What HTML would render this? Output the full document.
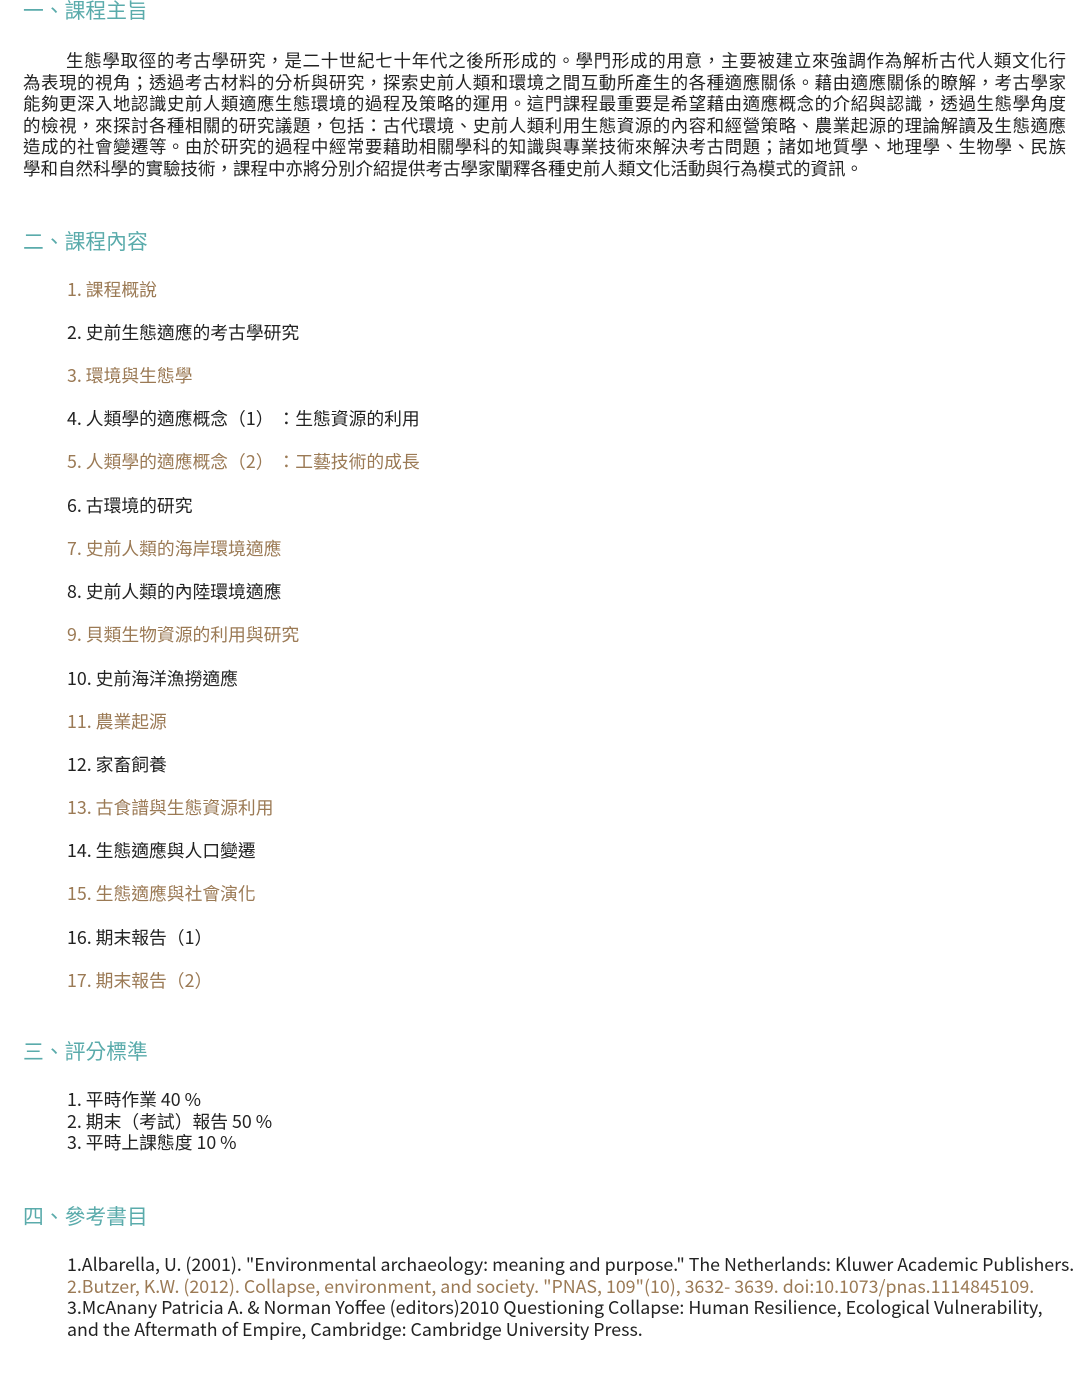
<!DOCTYPE html>
<html><head><meta charset="utf-8"><style>
body{margin:0;width:1082px;height:1375px;background:#fff;position:relative;overflow:hidden;font-family:"Liberation Sans","Noto Sans CJK TC",sans-serif;color:#222;}
.a{position:absolute;white-space:nowrap;}
.h{font-size:20.8px;color:#5aabab;line-height:24px;left:23px;font-family:"Noto Sans CJK TC",sans-serif;}
.p{left:23px;width:1043px;font-size:17.5px;line-height:21.5px;}
.p div{text-align:justify;text-align-last:justify;white-space:nowrap;}
.li{left:67px;font-size:17.8px;line-height:22px;font-family:"Noto Sans CJK TC","Liberation Sans",sans-serif;}
.b{color:#9b7a55;}
.r{left:67px;font-size:17.8px;line-height:21.5px;font-family:"Noto Sans CJK TC","Liberation Sans",sans-serif;}
</style></head><body>
<div class="a h" style="top:-3px">一、課程主旨</div>
<div class="a p" style="top:51px">
<div style="padding-left:43px">生態學取徑的考古學研究，是二十世紀七十年代之後所形成的。學門形成的用意，主要被建立來強調作為解析古代人類文化行</div>
<div>為表現的視角；透過考古材料的分析與研究，探索史前人類和環境之間互動所產生的各種適應關係。藉由適應關係的瞭解，考古學家</div>
<div>能夠更深入地認識史前人類適應生態環境的過程及策略的運用。這門課程最重要是希望藉由適應概念的介紹與認識，透過生態學角度</div>
<div>的檢視，來探討各種相關的研究議題，包括：古代環境、史前人類利用生態資源的內容和經營策略、農業起源的理論解讀及生態適應</div>
<div>造成的社會變遷等。由於研究的過程中經常要藉助相關學科的知識與專業技術來解決考古問題；諸如地質學、地理學、生物學、民族</div>
<div style="text-align-last:left">學和自然科學的實驗技術，課程中亦將分別介紹提供考古學家闡釋各種史前人類文化活動與行為模式的資訊。</div>
</div>
<div class="a h" style="top:228px">二、課程內容</div>
<div class="a li b" style="top:278px">1. 課程概說</div>
<div class="a li" style="top:321px">2. 史前生態適應的考古學研究</div>
<div class="a li b" style="top:364px">3. 環境與生態學</div>
<div class="a li" style="top:407px">4. 人類學的適應概念（1）&nbsp;：生態資源的利用</div>
<div class="a li b" style="top:450px">5. 人類學的適應概念（2）&nbsp;：工藝技術的成長</div>
<div class="a li" style="top:494px">6. 古環境的研究</div>
<div class="a li b" style="top:537px">7. 史前人類的海岸環境適應</div>
<div class="a li" style="top:580px">8. 史前人類的內陸環境適應</div>
<div class="a li b" style="top:623px">9. 貝類生物資源的利用與研究</div>
<div class="a li" style="top:667px">10. 史前海洋漁撈適應</div>
<div class="a li b" style="top:710px">11. 農業起源</div>
<div class="a li" style="top:753px">12. 家畜飼養</div>
<div class="a li b" style="top:796px">13. 古食譜與生態資源利用</div>
<div class="a li" style="top:839px">14. 生態適應與人口變遷</div>
<div class="a li b" style="top:882px">15. 生態適應與社會演化</div>
<div class="a li" style="top:926px">16. 期末報告（1）</div>
<div class="a li b" style="top:969px">17. 期末報告（2）</div>
<div class="a h" style="top:1038px">三、評分標準</div>
<div class="a li" style="top:1089px;line-height:21.5px">1. 平時作業 40 %<br>2. 期末（考試）報告 50 %<br>3. 平時上課態度 10 %</div>
<div class="a h" style="top:1203px">四、參考書目</div>
<div class="a r" style="top:1254px">1.Albarella, U. (2001). "Environmental archaeology: meaning and purpose." The Netherlands: Kluwer Academic Publishers.</div>
<div class="a r b" style="top:1275.5px">2.Butzer, K.W. (2012). Collapse, environment, and society. "PNAS, 109"(10), 3632- 3639. doi:10.1073/pnas.1114845109.</div>
<div class="a r" style="top:1297px">3.McAnany Patricia A. &amp; Norman Yoffee (editors)2010 Questioning Collapse: Human Resilience, Ecological Vulnerability,<br>and the Aftermath of Empire, Cambridge: Cambridge University Press.</div>
</body></html>
